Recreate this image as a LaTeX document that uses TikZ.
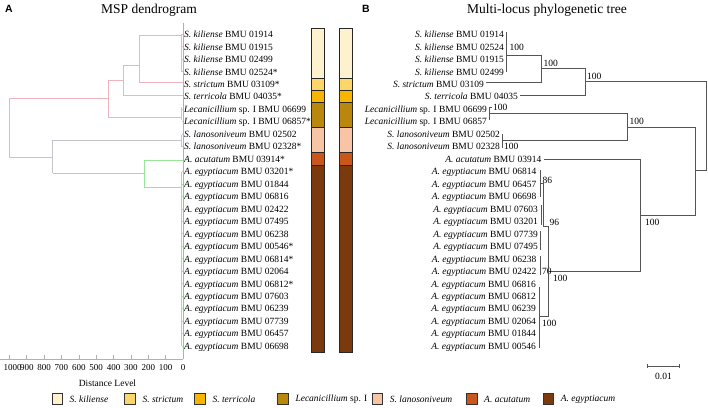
\documentclass[tikz,border=0pt]{standalone}
\usepackage{fontspec}
\setmainfont{Liberation Serif}
\newfontfamily\panelfont{Liberation Sans}
\definecolor{ckil}{HTML}{FDF1CE}
\definecolor{cstr}{HTML}{FCD66A}
\definecolor{cter}{HTML}{F7B500}
\definecolor{clec}{HTML}{B8870C}
\definecolor{clan}{HTML}{F7C4A5}
\definecolor{cacu}{HTML}{C9561A}
\definecolor{cegy}{HTML}{7A3A0E}
\definecolor{dpink}{HTML}{F0B4BE}
\definecolor{dgray}{HTML}{C4C4CE}
\definecolor{dgreen}{HTML}{98E498}
\definecolor{axgray}{HTML}{B0B0B0}
\definecolor{treeline}{HTML}{555555}
\begin{document}
\begin{tikzpicture}[x=1pt,y=-1pt,
  lab/.style={inner sep=0pt,font=\fontsize{9.5}{10}\selectfont},
  boot/.style={inner sep=0pt,anchor=west,font=\fontsize{9.5}{10}\selectfont},
  ttl/.style={inner sep=0pt,font=\fontsize{13.5}{14}\selectfont},
  pnl/.style={inner sep=0pt,font=\panelfont\bfseries\fontsize{10.5}{12}\selectfont},
  bar/.style={draw=black!85,line width=0.9pt},
  lsq/.style={draw=black!80,line width=0.9pt,minimum size=10.5pt,inner sep=0pt},
  leglab/.style={inner sep=0pt,anchor=west,font=\fontsize{9.5}{10}\selectfont},
  pk/.style={dpink,line width=0.7pt},
  gy/.style={dgray,line width=0.7pt},
  gn/.style={dgreen,line width=0.7pt},
  tl/.style={treeline,line width=0.8pt},
  ax/.style={axgray,line width=0.6pt}]
\useasboundingbox (0,0) rectangle (708,407);
% panel titles
\node[pnl] (pA) at (9,9) {A};
\node[ttl] (tA) at (149,10) {MSP dendrogram};
\node[pnl] (pB) at (366,9) {B};
\node[ttl] (tB) at (547,10) {Multi-locus phylogenetic tree};
% left labels
\foreach \i/\nm/\rs in {0/S. kiliense/BMU 01914,1/S. kiliense/BMU 01915,2/S. kiliense/BMU 02499,3/S. kiliense/BMU 02524*,
  4/S. strictum/BMU 03109*,5/S. terricola/BMU 04035*,6/Lecanicillium/sp. I BMU 06699,7/Lecanicillium/sp. I BMU 06857*,
  8/S. lanosoniveum/BMU 02502,9/S. lanosoniveum/BMU 02328*,10/A. acutatum/BMU 03914*,
  11/A. egyptiacum/BMU 03201*,12/A. egyptiacum/BMU 01844,13/A. egyptiacum/BMU 06816,14/A. egyptiacum/BMU 02422,
  15/A. egyptiacum/BMU 07495,16/A. egyptiacum/BMU 06238,17/A. egyptiacum/BMU 00546*,18/A. egyptiacum/BMU 06814*,
  19/A. egyptiacum/BMU 02064,20/A. egyptiacum/BMU 06812*,21/A. egyptiacum/BMU 07603,22/A. egyptiacum/BMU 06239,
  23/A. egyptiacum/BMU 07739,24/A. egyptiacum/BMU 06457,25/A. egyptiacum/BMU 06698}
  \node[lab,anchor=base west] (l\i) at (184,{37.6+12.47*\i}) {\textit{\nm} \rs};
% right labels
\foreach \i/\xe/\nm/\rs in {0/504/S. kiliense/BMU 01914,1/504/S. kiliense/BMU 02524,2/504/S. kiliense/BMU 01915,3/504/S. kiliense/BMU 02499,
  4/484/S. strictum/BMU 03109,5/518/S. terricola/BMU 04035,6/487/Lecanicillium/sp. I BMU 06699,7/487/Lecanicillium/sp. I BMU 06857,
  8/500/S. lanosoniveum/BMU 02502,9/500/S. lanosoniveum/BMU 02328,10/541.5/A. acutatum/BMU 03914,
  11/536.5/A. egyptiacum/BMU 06814,12/536.5/A. egyptiacum/BMU 06457,13/536.5/A. egyptiacum/BMU 06698,14/538/A. egyptiacum/BMU 07603,
  15/538/A. egyptiacum/BMU 03201,16/538/A. egyptiacum/BMU 07739,17/538/A. egyptiacum/BMU 07495,18/536.5/A. egyptiacum/BMU 06238,
  19/536.5/A. egyptiacum/BMU 02422,20/536/A. egyptiacum/BMU 06816,21/536/A. egyptiacum/BMU 06812,22/536/A. egyptiacum/BMU 06239,
  23/536/A. egyptiacum/BMU 02064,24/536/A. egyptiacum/BMU 01844,25/536/A. egyptiacum/BMU 00546}
  \node[lab,anchor=base east] (r\i) at (\xe,{37.6+12.47*\i}) {\textit{\nm} \rs};
% colour bars
\foreach \xa in {311,339}{
  \draw[bar,fill=ckil] (\xa,28.07) rectangle ++(13,49.88);
  \draw[bar,fill=cstr] (\xa,77.95) rectangle ++(13,12.47);
  \draw[bar,fill=cter] (\xa,90.42) rectangle ++(13,12.47);
  \draw[bar,fill=clec] (\xa,102.89) rectangle ++(13,24.94);
  \draw[bar,fill=clan] (\xa,127.83) rectangle ++(13,24.94);
  \draw[bar,fill=cacu] (\xa,152.77) rectangle ++(13,12.47);
  \draw[bar,fill=cegy] (\xa,165.24) rectangle ++(13,187.05);
}
% axis
\draw[ax] (0,359) -- (183,359);
\draw[ax] (183,22.7) -- (183,359);
\foreach \k in {0,...,10} \draw[ax] ({183-17.36*\k},359) -- ++(0,-4);
\foreach \k in {0,...,9} \node[lab,font=\fontsize{9}{9}\selectfont] (t\k) at ({183-17.36*\k},368) {\the\numexpr\k*100\relax};
\node[lab,font=\fontsize{9}{9}\selectfont] (t10) at (12.5,368) {1000};
\node[lab] (dl) at (107.5,383) {Distance Level};
% dendrogram (left)
\draw[pk] (181.5,34.3) -- (181.5,71.7);
\foreach \i in {0,...,3,6,7} \draw[pk] (181.5,{34.3+12.47*\i}) -- (183,{34.3+12.47*\i});
\draw[pk] (181.5,35) -- (139.3,35) -- (139.3,82.7) -- (183,82.7);
\draw[pk] (139.3,65) -- (123,65) -- (123,95.3) -- (183,95.3);
\draw[pk] (123,80) -- (108.3,80) -- (108.3,117) -- (181.5,117);
\draw[pk] (181.5,107.2) -- (181.5,119.7);
\draw[pk] (108.3,98) -- (9.3,98);
\draw[gy] (9.3,98) -- (9.3,157) -- (52.7,157);
\draw[gy] (52.7,140) -- (52.7,173.3);
\draw[gy] (52.7,140) -- (181.5,140);
\draw[gy] (181.5,134.6) -- (181.5,147);
\foreach \i in {8,9} \draw[gy] (181.5,{34.3+12.47*\i}) -- (183,{34.3+12.47*\i});
\draw[gn] (52.7,173.3) -- (144.3,173.3);
\draw[gn] (144.3,160.7) -- (144.3,187.3);
\draw[gn] (144.3,160.7) -- (183,160.7);
\draw[gn] (144.3,187.3) -- (181.5,187.3);
\draw[gn] (181.5,171.5) -- (181.5,346);
\foreach \i in {11,...,25} \draw[gn] (181.5,{34.3+12.47*\i}) -- (183,{34.3+12.47*\i});
% tree (right)
\draw[tl] (506.7,31.7) -- (506.7,71.7);
\node[boot] (b1) at (509.5,47) {100};
\draw[tl] (506.7,55) -- (541.7,55) -- (541.7,82.7) -- (486,82.7);
\node[boot] (b2) at (543.5,63.3) {100};
\draw[tl] (541.7,68.3) -- (585,68.3) -- (585,95) -- (520,95);
\node[boot] (b3) at (587,76) {100};
\draw[tl] (585,81.7) -- (706.7,81.7) -- (706.7,170.7) -- (695.7,170.7);
\draw[tl] (489.5,107.3) -- (489.5,119.7);
\draw[tl] (489.5,107.3) -- (492,107.3);
\node[boot] (b4) at (493,107) {100};
\draw[tl] (489.5,113.5) -- (627.3,113.5) -- (627.3,140.7) -- (502.7,140.7);
\draw[tl] (502.7,134) -- (502.7,148);
\node[boot] (b5) at (504,146.5) {100};
\node[boot] (b6) at (629.3,121.7) {100};
\draw[tl] (627.3,127) -- (695.7,127) -- (695.7,215) -- (640,215);
\draw[tl] (544.3,159) -- (640,159) -- (640,271) -- (548.3,271);
\node[boot] (b7) at (645,222) {100};
% egyptiacum clade
\draw[tl] (540,170) -- (540,197);
\node[boot] (b8) at (542.5,180) {86};
\draw[tl] (540,183.5) -- (543.3,183.5) -- (543.3,226) -- (548.3,226);
\draw[tl] (541.5,205) -- (541.5,225);
\node[boot] (b9) at (549.5,222) {96};
\draw[tl] (540,231) -- (540,250);
\draw[tl] (540,256) -- (540,275);
\node[boot] (b10) at (542,271) {70};
\draw[tl] (548.3,226) -- (548.3,316.7) -- (539.3,316.7);
\draw[tl] (539.3,286.7) -- (539.3,348.3);
\node[boot] (b11) at (542,323.5) {100};
\node[boot] (b12) at (553,278.5) {100};
% scale bar
\draw[tl] (647.7,366) -- (679.3,366);
\draw[tl] (647.7,364) -- (647.7,368);
\draw[tl] (679.3,364) -- (679.3,368);
\node[lab] (sb) at (663.5,376) {0.01};
% legend
\foreach \j/\xl/\col/\nm/\rs in {1/51.5/ckil/S. kiliense/,2/124.3/cstr/S. strictum/,3/194.3/cter/S. terricola/,
   4/277.3/clec/Lecanicillium/ sp. I,5/371.7/clan/S. lanosoniveum/,6/466/cacu/A. acutatum/,7/542.7/cegy/A. egyptiacum/}{
  \node[lsq,fill=\col,anchor=west] (k\j) at (\xl,399) {};
  \node[leglab] (kl\j) at (\xl+18,399) {\textit{\nm}\rs};
}
\end{tikzpicture}
\end{document}
